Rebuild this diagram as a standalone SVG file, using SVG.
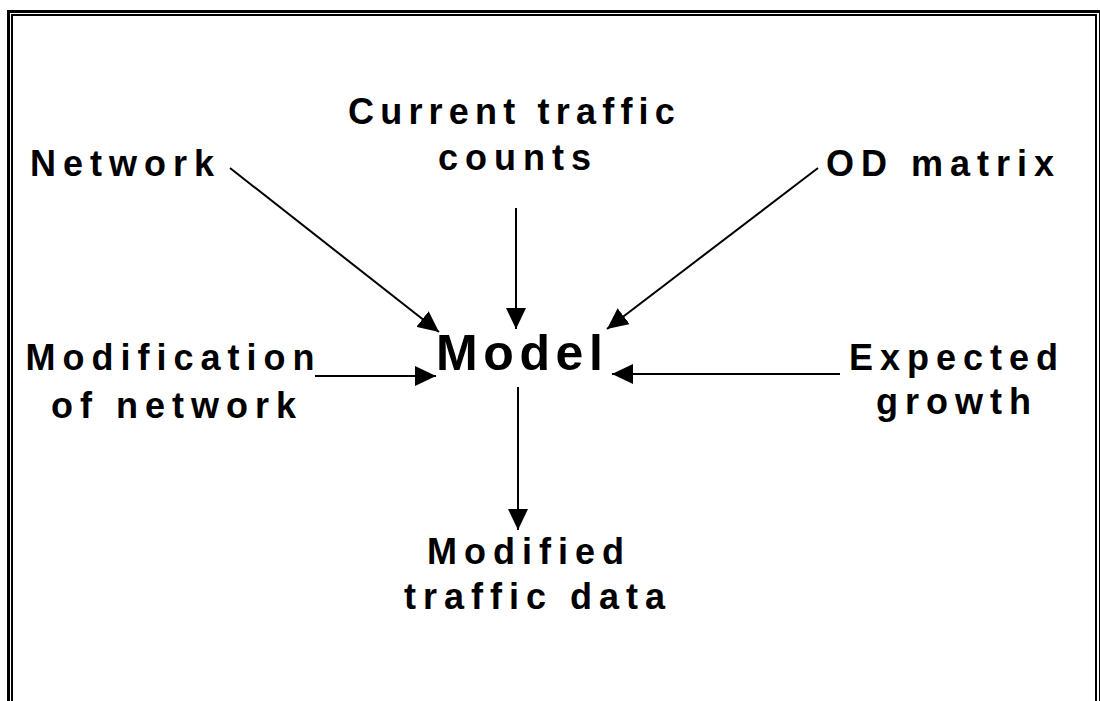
<svg xmlns="http://www.w3.org/2000/svg" width="1100" height="701" viewBox="0 0 1100 701">
  <style>
    .lbl { font-family: "Liberation Sans", Arial, sans-serif; font-weight: bold; font-size: 36px; letter-spacing: 7px; fill: #000; }
    .big { font-size: 50px; letter-spacing: 5.6px; }
    .conn { stroke: #000; stroke-width: 2; fill: none; marker-end: url(#head); }
  </style>
  <defs>
    <marker id="head" markerUnits="userSpaceOnUse" markerWidth="22" markerHeight="20" refX="21" refY="10" orient="auto">
      <path d="M0,0 L21,10 L0,20 Z" fill="#000"/>
    </marker>
  </defs>
  <rect width="1100" height="701" fill="#fff"/>
  <!-- double frame, open at the bottom -->
  <g id="frame" fill="none" stroke="#000">
    <rect x="8.5" y="11.5" width="1092" height="720" stroke-width="3"/>
    <rect x="12" y="15" width="1084" height="720" stroke-width="2"/>
  </g>
  <g id="connectors">
    <line class="conn" x1="230" y1="168" x2="439" y2="332"/>
    <line class="conn" x1="516" y1="208" x2="516" y2="329"/>
    <line class="conn" x1="818" y1="168" x2="607" y2="329"/>
    <line class="conn" x1="315" y1="376" x2="436" y2="376"/>
    <line class="conn" x1="840" y1="374" x2="612" y2="374"/>
    <line class="conn" x1="518" y1="387" x2="518" y2="530"/>
  </g>
  <g id="network"><text class="lbl" x="30" y="176">Network</text></g>
  <g id="current-traffic-counts">
    <text class="lbl" x="348" y="124" style="letter-spacing:6.2px">Current traffic</text>
    <text class="lbl" x="438" y="170">counts</text>
  </g>
  <g id="od-matrix"><text class="lbl" x="826" y="176">OD matrix</text></g>
  <g id="model"><text class="lbl big" x="436" y="370">Model</text></g>
  <g id="modification-of-network">
    <text class="lbl" x="25.5" y="370">Modification</text>
    <text class="lbl" x="51" y="418">of network</text>
  </g>
  <g id="expected-growth">
    <text class="lbl" x="849" y="370">Expected</text>
    <text class="lbl" x="876" y="414">growth</text>
  </g>
  <g id="modified-traffic-data">
    <text class="lbl" x="427" y="564">Modified</text>
    <text class="lbl" x="404" y="609">traffic data</text>
  </g>
</svg>
